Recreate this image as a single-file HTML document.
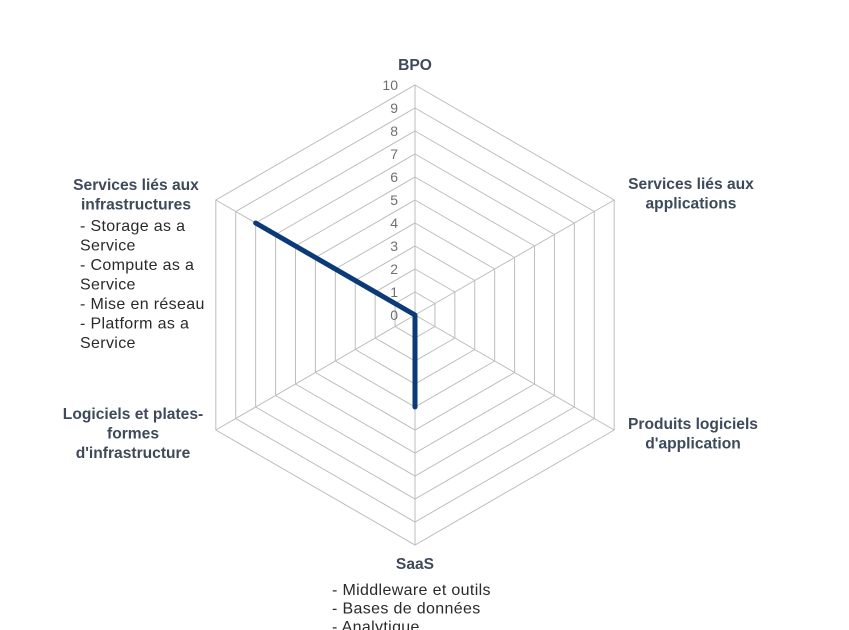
<!DOCTYPE html>
<html><head><meta charset="utf-8"><style>
html,body{margin:0;padding:0;background:#fff;}
svg{display:block;font-family:"Liberation Sans",sans-serif;}
.lab{font-weight:bold;font-size:15.6px;fill:#3e4a5a;}
.sub{font-size:16px;letter-spacing:0.35px;fill:#2a2a2a;}
.tick{font-size:14px;fill:#707070;}
</style></head><body>
<svg id="chart" width="849" height="630" viewBox="0 0 849 630">
<g id="grid"></g>
<g id="ticks"></g>
<g id="series"></g>
<g>
<text class="lab" x="415" y="70" text-anchor="middle">BPO</text>
<text class="lab" x="691" y="189" text-anchor="middle"><tspan x="691">Services liés aux</tspan><tspan x="691" dy="19.5">applications</tspan></text>
<text class="lab" x="693" y="429" text-anchor="middle"><tspan x="693">Produits logiciels</tspan><tspan x="693" dy="19.5">d'application</tspan></text>
<text class="lab" x="415" y="569" text-anchor="middle">SaaS</text>
<text class="sub" x="332" y="595"><tspan x="332">- Middleware et outils</tspan><tspan x="332" dy="18.5">- Bases de données</tspan><tspan x="332" dy="18.5">- Analytique</tspan></text>
<text class="lab" x="133" y="419" text-anchor="middle"><tspan x="133">Logiciels et plates-</tspan><tspan x="133" dy="19.5">formes</tspan><tspan x="133" dy="19.5">d'infrastructure</tspan></text>
<text class="lab" x="136" y="190" text-anchor="middle"><tspan x="136">Services liés aux</tspan><tspan x="136" dy="19.5">infrastructures</tspan></text>
<text class="sub" x="80" y="231"><tspan x="80">- Storage as a</tspan><tspan x="80" dy="19.5">Service</tspan><tspan x="80" dy="19.5">- Compute as a</tspan><tspan x="80" dy="19.5">Service</tspan><tspan x="80" dy="19.5">- Mise en réseau</tspan><tspan x="80" dy="19.5">- Platform as a</tspan><tspan x="80" dy="19.5">Service</tspan></text>
</g>
</svg>
<script>
const categories = ["BPO","Services liés aux applications","Produits logiciels d'application","SaaS","Logiciels et plates-formes d'infrastructure","Services liés aux infrastructures"];
const values = [0,0,0,4,0,8];
const tickLabels = ["0","1","2","3","4","5","6","7","8","9","10"];
const maxVal = 10;
const NS="http://www.w3.org/2000/svg";
const cx=415, cy=315, R=230;
function pt(i,v){const a=-Math.PI/2+i*2*Math.PI/categories.length;const r=v/maxVal*R;return [cx+r*Math.cos(a),cy+r*Math.sin(a)];}
const grid=document.getElementById('grid');
for(let k=1;k<=maxVal;k++){
  const p=document.createElementNS(NS,'polygon');
  p.setAttribute('points',categories.map((c,i)=>pt(i,k).join(',')).join(' '));
  p.setAttribute('fill','none');p.setAttribute('stroke','#bdbdbd');p.setAttribute('stroke-width','1');
  
  
  grid.appendChild(p);
}
categories.forEach((c,i)=>{
  const l=document.createElementNS(NS,'line');const e=pt(i,maxVal);
  l.setAttribute('x1',cx);l.setAttribute('y1',cy);l.setAttribute('x2',e[0]);l.setAttribute('y2',e[1]);
  l.setAttribute('stroke','#bdbdbd');l.setAttribute('stroke-width','1');
  
  
  grid.appendChild(l);
});
const ticks=document.getElementById('ticks');
tickLabels.forEach((t,k)=>{
  const tx=document.createElementNS(NS,'text');const p=pt(0,k);
  tx.setAttribute('x',p[0]-17);tx.setAttribute('y',p[1]+5);tx.setAttribute('text-anchor','end');tx.setAttribute('class','tick');
  tx.textContent=t;
  
  
  ticks.appendChild(tx);
});
const series=document.getElementById('series');
const pl=document.createElementNS(NS,'polygon');
pl.setAttribute('points',values.map((v,i)=>pt(i,v).join(',')).join(' '));
pl.setAttribute('fill','none');pl.setAttribute('stroke','#0b3a78');pl.setAttribute('stroke-width','5');pl.setAttribute('stroke-linejoin','round');pl.setAttribute('stroke-linecap','round');


series.appendChild(pl);
</script>
</body></html>
